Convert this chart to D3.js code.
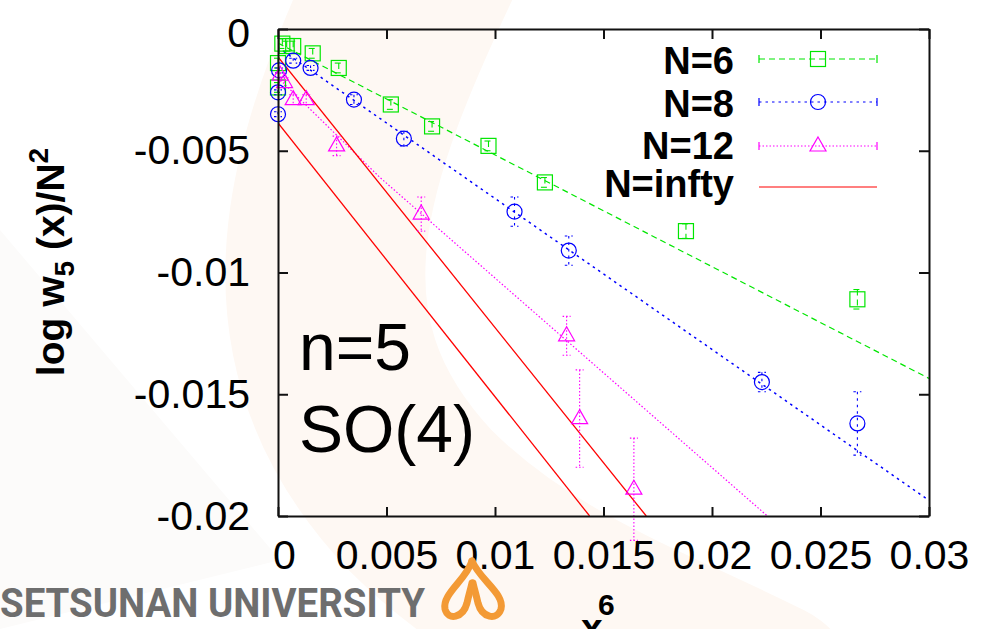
<!DOCTYPE html>
<html>
<head>
<meta charset="utf-8">
<script src="https://cdn.jsdelivr.net/npm/d3@7"></script>
<style>
html,body{margin:0;padding:0;background:#fff;}
svg{display:block;}
</style>
</head>
<body>
<svg id="chart" width="981" height="629"></svg>
<script>
// ---------- data ----------
const xTicks = [0, 0.005, 0.01, 0.015, 0.02, 0.025, 0.03];
const xTickLabels = ["0", "0.005", "0.01", "0.015", "0.02", "0.025", "0.03"];
const yTicks = [0, -0.005, -0.01, -0.015, -0.02];
const yTickLabels = ["0", "-0.005", "-0.01", "-0.015", "-0.02"];

const seriesNames = ["N=6", "N=8", "N=12", "N=infty"];

// N=6 (green squares)
const n6X   = [0.0000, 0.0000, 0.0002, 0.0004, 0.0007, 0.0016, 0.0028, 0.0052, 0.0071, 0.0097, 0.0123, 0.0188, 0.0267];
const n6Y   = [-0.0024, -0.0014, -0.0006, -0.0007, -0.0007, -0.0010, -0.0016, -0.0031, -0.0040, -0.0048, -0.0063, -0.0083, -0.0111];
const n6Err = [0.0002, 0.0002, 0.0002, 0.0002, 0.0002, 0.0002, 0.0002, 0.0002, 0.0002, 0.0002, 0.0002, 0.0003, 0.0004];

// N=8 (blue circles)
const n8X   = [0.0000, 0.0000, 0.00005, 0.0007, 0.0015, 0.0035, 0.0058, 0.0109, 0.0134, 0.0223, 0.0267];
const n8Y   = [-0.0035, -0.0026, -0.0017, -0.0013, -0.0016, -0.0029, -0.0045, -0.0075, -0.0091, -0.0145, -0.0162];
const n8Err = [0.0001, 0.0001, 0.0001, 0.0001, 0.0001, 0.0002, 0.0003, 0.0006, 0.0006, 0.0004, 0.0013];

// N=12 (magenta triangles)
const n12X   = [0.0001, 0.0003, 0.0007, 0.0013, 0.0027, 0.0066, 0.0133, 0.0139, 0.0164];
const n12Y   = [-0.0019, -0.0022, -0.0029, -0.0029, -0.0048, -0.0076, -0.0126, -0.0160, -0.0189];
const n12Err = [0.0001, 0.0002, 0.0002, 0.0002, 0.0004, 0.0007, 0.0008, 0.0020, 0.0021];

// fit lines (end points)
const fit6X  = [0, 0.03];
const fit6Y  = [-0.00058, -0.01435];
const fit8X  = [0, 0.03];
const fit8Y  = [-0.00076, -0.01936];
const fit12X = [0, 0.0047, 0.03];
const fit12Y = [-0.0020, -0.0061, -0.0258];
const infAX  = [0, 0.01697];
const infAY  = [-0.00115, -0.0200];
const infBX  = [0, 0.01436];
const infBY  = [-0.00386, -0.0200];

// ---------- drawing ----------
const svg = d3.select("#chart");
const x = d3.scaleLinear().domain([0, 0.03]).range([278, 929]);
const y = d3.scaleLinear().domain([-0.02, 0]).range([516, 29]);

const col = {g: "#00e600", b: "#0000ff", m: "#ff00ff", r: "#ff0000"};
const dash = {g: "6,4", b: "2.5,4", m: "1.5,2", r: null};

// faint watermark background
const bg = svg.append("g");
bg.append("path")
  .attr("d", "M 430 -60 C 330 150, 260 330, 420 500 C 520 600, 640 640, 760 700")
  .attr("fill", "none").attr("stroke", "#fef8f3").attr("stroke-width", 200)
  .attr("stroke-linecap", "round");
bg.append("path")
  .attr("d", "M 0 230 L 280 560 L 0 629 Z")
  .attr("fill", "#fcfbfa");

// clip for plot
svg.append("defs").append("clipPath").attr("id", "plotclip")
  .append("rect").attr("x", 278).attr("y", 29).attr("width", 929 - 278).attr("height", 516 - 29);

const plot = svg.append("g").attr("clip-path", "url(#plotclip)");

const line = d3.line().x(d => x(d[0])).y(d => y(d[1]));
function drawFit(xs, ys, c, dsh, w) {
  plot.append("path")
    .attr("d", line(d3.zip(xs, ys)))
    .attr("fill", "none").attr("stroke", c).attr("stroke-width", w || 1.2)
    .attr("stroke-dasharray", dsh);
}
drawFit(fit6X, fit6Y, col.g, dash.g);
drawFit(fit8X, fit8Y, col.b, dash.b, 1.5);
drawFit(fit12X, fit12Y, col.m, dash.m);
drawFit(infAX, infAY, col.r, null, 1.3);
drawFit(infBX, infBY, col.r, null, 1.3);

function marker(g, shape, cx, cy, c) {
  if (shape === "square") {
    g.append("rect").attr("x", cx - 7.5).attr("y", cy - 7.5).attr("width", 15).attr("height", 15)
      .attr("fill", "none").attr("stroke", c).attr("stroke-width", 1.2);
  } else if (shape === "circle") {
    g.append("circle").attr("cx", cx).attr("cy", cy).attr("r", 7.5)
      .attr("fill", "none").attr("stroke", c).attr("stroke-width", 1.2);
  } else {
    g.append("path").attr("d", `M ${cx} ${cy - 9} L ${cx + 8} ${cy + 5} L ${cx - 8} ${cy + 5} Z`)
      .attr("fill", "none").attr("stroke", c).attr("stroke-width", 1.2);
  }
}

function drawSeries(xs, ys, es, shape, c, dsh) {
  const g = svg.append("g");
  xs.forEach((xv, i) => {
    const cx = x(xv), cy = y(ys[i]);
    const y1 = y(ys[i] + es[i]), y2 = y(ys[i] - es[i]);
    g.append("line").attr("x1", cx).attr("x2", cx).attr("y1", y1).attr("y2", y2)
      .attr("stroke", c).attr("stroke-width", 1.1).attr("stroke-dasharray", dsh);
    [y1, y2].forEach(yy => g.append("line").attr("x1", cx - 4).attr("x2", cx + 4)
      .attr("y1", yy).attr("y2", yy).attr("stroke", c).attr("stroke-width", 1.1)
      .attr("stroke-dasharray", dsh));
    marker(g, shape, cx, cy, c);
  });
}
drawSeries(n6X, n6Y, n6Err, "square", col.g, dash.g);
drawSeries(n8X, n8Y, n8Err, "circle", col.b, dash.b);
drawSeries(n12X, n12Y, n12Err, "triangle", col.m, dash.m);

// axes
const font = "'Liberation Sans', Arial, sans-serif";
const ax = svg.append("g").attr("transform", "translate(0,516)")
  .call(d3.axisBottom(x).tickValues(xTicks).tickFormat((d, i) => xTickLabels[i])
    .tickSizeInner(-9).tickSizeOuter(0).tickPadding(24));
const ay = svg.append("g").attr("transform", "translate(278,0)")
  .call(d3.axisLeft(y).tickValues(yTicks).tickFormat((d, i) => yTickLabels[i])
    .tickSizeInner(-10).tickSizeOuter(0).tickPadding(28));
const axT = svg.append("g").attr("transform", "translate(0,29)")
  .call(d3.axisTop(x).tickValues(xTicks).tickFormat("").tickSizeInner(-10).tickSizeOuter(0));
const ayR = svg.append("g").attr("transform", "translate(929,0)")
  .call(d3.axisRight(y).tickValues(yTicks).tickFormat("").tickSizeInner(-10).tickSizeOuter(0));
[ax, ay, axT, ayR].forEach(a => {
  a.select(".domain").attr("stroke", "#111").attr("stroke-width", 2);
  a.selectAll(".tick line").attr("stroke", "#111").attr("stroke-width", 2);
  a.selectAll("text").attr("font-family", font).attr("font-size", 41).attr("fill", "#000");
});
ax.selectAll(".tick text").attr("dx", (d, i) => i === 0 ? 6 : 0);
ay.selectAll(".tick text").attr("dy", (d, i) => i === 0 ? "0.42em" : "0.32em");

// legend
const leg = svg.append("g");
const legTextY = [74, 117, 159, 197];
const legLineY = [59, 102, 146, 187];
const legShapes = ["square", "circle", "triangle", null];
const legCols = [col.g, col.b, col.m, col.r];
const legDash = [dash.g, dash.b, dash.m, null];
seriesNames.forEach((name, i) => {
  leg.append("text").attr("x", 734).attr("y", legTextY[i]).attr("text-anchor", "end")
    .attr("font-family", font).attr("font-weight", "bold").attr("font-size", 38).text(name);
  const ly = legLineY[i];
  leg.append("line").attr("x1", 759).attr("x2", 877).attr("y1", ly).attr("y2", ly)
    .attr("stroke", legCols[i]).attr("stroke-width", 1.2).attr("stroke-dasharray", legDash[i]);
  if (legShapes[i]) {
    [759, 877].forEach(xx => leg.append("line").attr("x1", xx).attr("x2", xx)
      .attr("y1", ly - 4).attr("y2", ly + 4).attr("stroke", legCols[i]).attr("stroke-width", 1.2));
    marker(leg, legShapes[i], 818, ly, legCols[i]);
  }
});

// annotations
svg.append("text").attr("x", 299).attr("y", 370).attr("font-family", font).attr("font-size", 66).text("n=5");
svg.append("text").attr("x", 299).attr("y", 452).attr("font-family", font).attr("font-size", 66).text("SO(4)");

// y label
const yl = svg.append("text").attr("transform", "translate(64,262) rotate(-90)")
  .attr("text-anchor", "middle").attr("font-family", font).attr("font-weight", "bold").attr("font-size", 39);
yl.append("tspan").text("log w");
yl.append("tspan").attr("font-size", 28).attr("dy", 10).text("5");
yl.append("tspan").attr("dy", -10).text(" (x)/N");
yl.append("tspan").attr("font-size", 28).attr("dy", -16).text("2");

// x label (cut off at the bottom edge, as in the original)
svg.append("text").attr("x", 581).attr("y", 641).attr("font-family", font).attr("font-weight", "bold")
  .attr("font-size", 39).text("x");
svg.append("text").attr("x", 598).attr("y", 615).attr("font-family", font).attr("font-weight", "bold")
  .attr("font-size", 30).text("6");

// university mark
svg.append("text").attr("x", 0).attr("y", 617).attr("font-family", "Roboto, 'DejaVu Sans', sans-serif")
  .attr("font-weight", "bold").attr("font-size", 41).attr("fill", "#6e6e6e")
  .attr("textLength", 425).attr("lengthAdjust", "spacingAndGlyphs").text("SETSUNAN UNIVERSITY");
const logo = svg.append("g").attr("fill", "none").attr("stroke", "#f39a35").attr("stroke-width", 7)
  .attr("stroke-linecap", "round");
logo.append("path").attr("d", "M 472 561 C 466 580, 442 594, 445 609 C 448 621, 463 618, 467 603 C 469 594, 471 588, 472 583");
logo.append("path").attr("d", "M 472 561 C 480 580, 505 594, 501 609 C 497 621, 482 618, 478 603 C 476 594, 474 588, 473 583");
</script>
</body>
</html>
